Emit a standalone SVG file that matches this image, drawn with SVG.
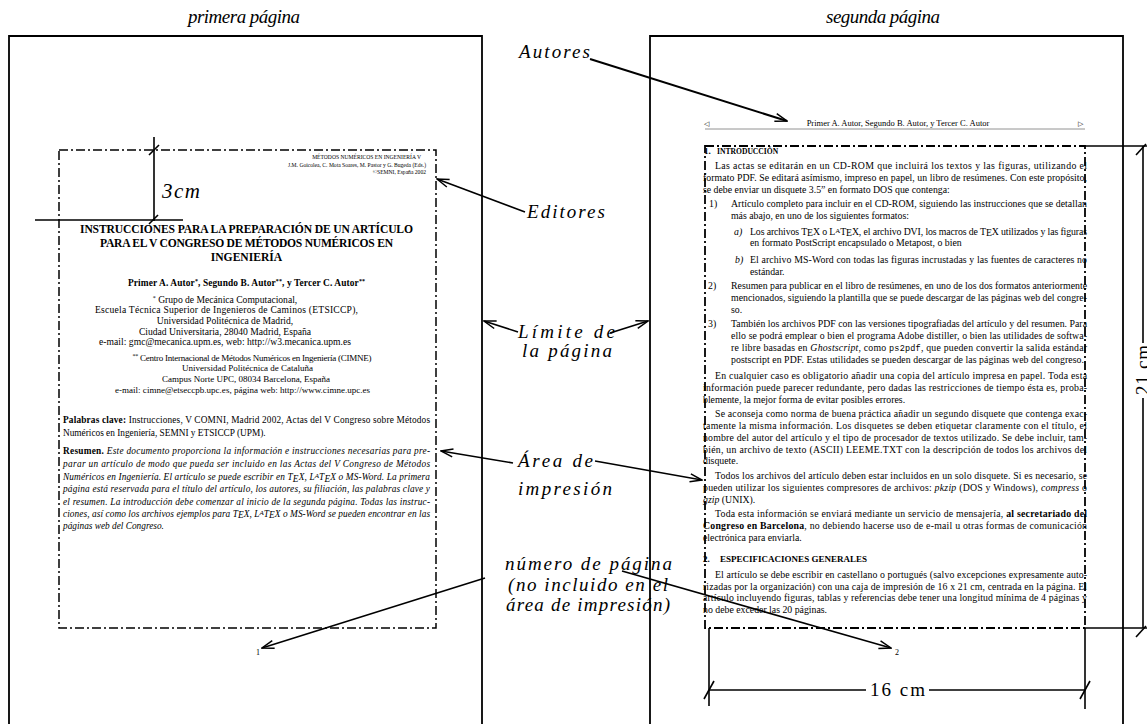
<svg xmlns="http://www.w3.org/2000/svg" width="1147" height="724" viewBox="0 0 1147 724">
<style>
.lbl{font-family:"Liberation Serif",serif;font-style:italic;font-size:19px;fill:#000}
.dim{font-family:"Liberation Serif",serif;font-size:19px;fill:#000}
.pg{fill:none;stroke:#000;stroke-width:1.8}
.pa{fill:none;stroke:#000;stroke-width:1.5;stroke-dasharray:9 3 2 3}
.ln{fill:none;stroke:#000;stroke-width:1.6}
.ar{fill:none;stroke:#000;stroke-width:1.6;marker-end:url(#ah)}
.t1{font-family:"Liberation Serif",serif;font-size:9.3px;fill:#000}
.t2{font-family:"Liberation Serif",serif;font-size:9.8px;fill:#000}
.af{font-family:"Liberation Serif",serif;font-size:9.6px;fill:#000}
.tiny{font-family:"Liberation Serif",serif;font-size:5.6px;fill:#000}
.b{font-weight:bold}
.i{font-style:italic}
.m{font-family:"Liberation Mono",monospace}
</style>
<defs>
<marker id="ah" viewBox="0 0 14 10" refX="13" refY="5" markerWidth="14" markerHeight="10" orient="auto" markerUnits="userSpaceOnUse">
<path d="M1,1 L13,5 L1,9" fill="none" stroke="#000" stroke-width="1.5"/>
</marker>
</defs>

<g id="titles">
<text class="lbl" x="244" y="23" text-anchor="middle" textLength="112">primera página</text>
<text class="lbl" x="883" y="23" text-anchor="middle" textLength="114">segunda página</text>
</g>

<g id="page1">
<path class="pg" d="M9,724 V36 H482 V724"/>
<rect class="pa" x="59" y="150" width="377" height="478"/>
<text class="tiny" x="421" y="159" text-anchor="end">MÉTODOS NUMÉRICOS EN INGENIERÍA V</text>
<text class="tiny" x="426" y="166.5" text-anchor="end">J.M. Goicolea, C. Mota Soares, M. Pastor y G. Bugeda (Eds.)</text>
<text class="tiny" x="426" y="174" text-anchor="end">©SEMNI, España 2002</text>
<text class="t1 b" x="246.5" y="233" text-anchor="middle" style="font-size:11.6px" textLength="333">INSTRUCCIONES PARA LA PREPARACIÓN DE UN ARTÍCULO</text>
<text class="t1 b" x="246.5" y="247" text-anchor="middle" style="font-size:11.6px" textLength="293">PARA EL V CONGRESO DE MÉTODOS NUMÉRICOS EN</text>
<text class="t1 b" x="246.5" y="261" text-anchor="middle" style="font-size:11.6px">INGENIERÍA</text>
<text class="t1 b" x="246.5" y="285.5" text-anchor="middle" style="font-size:9.4px" textLength="237">Primer A. Autor<tspan font-size="6" dy="-3">*</tspan><tspan dy="3">, Segundo B. Autor</tspan><tspan font-size="6" dy="-3">**</tspan><tspan dy="3">, y Tercer C. Autor</tspan><tspan font-size="6" dy="-3">**</tspan></text>
<text class="af" x="225" y="303" text-anchor="middle"><tspan font-size="6" dy="-3">*</tspan><tspan dy="3"> Grupo de Mecánica Computacional,</tspan></text>
<text class="af" x="226.5" y="313" text-anchor="middle" textLength="263">Escuela Técnica Superior de Ingenieros de Caminos (ETSICCP),</text>
<text class="af" x="225" y="324" text-anchor="middle">Universidad Politécnica de Madrid,</text>
<text class="af" x="225" y="334.5" text-anchor="middle">Ciudad Universitaria, 28040 Madrid, España</text>
<text class="af" x="225" y="345" text-anchor="middle" textLength="252">e-mail: gmc@mecanica.upm.es, web: http://w3.mecanica.upm.es</text>
<text class="af" x="252" y="361" text-anchor="middle" style="font-size:9px" textLength="239"><tspan font-size="6" dy="-3">**</tspan><tspan dy="3"> Centro Internacional de Métodos Numéricos en Ingeniería (CIMNE)</tspan></text>
<text class="af" x="247.5" y="371" text-anchor="middle" style="font-size:9px">Universidad Politécnica de Cataluña</text>
<text class="af" x="246" y="382" text-anchor="middle" style="font-size:9px">Campus Norte UPC, 08034 Barcelona, España</text>
<text class="af" x="242.5" y="392.5" text-anchor="middle" style="font-size:9px" textLength="255">e-mail: cimne@etseccpb.upc.es, página web: http://www.cimne.upc.es</text>
<text class="t1" x="63" y="423" textLength="367"><tspan class="b">Palabras clave:</tspan> Instrucciones, V COMNI, Madrid 2002, Actas del V Congreso sobre Métodos</text>
<text class="t1" x="63" y="435.5">Numéricos en Ingeniería, SEMNI y ETSICCP (UPM).</text>
<text class="t1" x="63" y="454" textLength="367"><tspan class="b">Resumen.</tspan><tspan class="i"> Este documento proporciona la información e instrucciones necesarias para pre-</tspan></text>
<text class="t1 i" x="63" y="467" textLength="367">parar un artículo de modo que pueda ser incluido en las Actas del V Congreso de Métodos</text>
<text class="t1 i" x="63" y="480" textLength="367">Numéricos en Ingeniería. El artículo se puede escribir en T<tspan dy="1.8">E</tspan><tspan dy="-1.8">X, L</tspan><tspan dy="-2" font-size="7">A</tspan><tspan dy="2">T</tspan><tspan dy="1.8">E</tspan><tspan dy="-1.8">X o MS-Word. La primera</tspan></text>
<text class="t1 i" x="63" y="492" textLength="367">página está reservada para el título del artículo, los autores, su filiación, las palabras clave y</text>
<text class="t1 i" x="63" y="504.5" textLength="367">el resumen. La introducción debe comenzar al inicio de la segunda página. Todas las instruc-</text>
<text class="t1 i" x="63" y="516.5" textLength="367">ciones, así como los archivos ejemplos para T<tspan dy="1.8">E</tspan><tspan dy="-1.8">X, L</tspan><tspan dy="-2" font-size="7">A</tspan><tspan dy="2">T</tspan><tspan dy="1.8">E</tspan><tspan dy="-1.8">X o MS-Word se pueden encontrar en las</tspan></text>
<text class="t1 i" x="63" y="529">páginas web del Congreso.</text>
<text class="t1" x="256" y="655" style="font-size:8px">1</text>
</g>

<g id="page2">
<path class="pg" d="M650,724 V36 H1123 V724"/>
<rect class="pa" x="705" y="146" width="380" height="482" style="stroke-width:1.8"/>
<text font-family="DejaVu Sans,sans-serif" font-size="7" x="704" y="126">◁</text>
<text font-family="DejaVu Sans,sans-serif" font-size="7" x="1078" y="126">▷</text>
<text class="t2" x="898" y="126" text-anchor="middle" style="font-size:8.5px">Primer A. Autor, Segundo B. Autor, y Tercer C. Autor</text>
<line x1="705" y1="129" x2="1085" y2="129" stroke="#777" stroke-width="0.8"/>
<text class="t2 b" x="704" y="154" style="font-size:9px">1.</text>
<text class="t2 b" x="717" y="154" style="font-size:7.6px">INTRODUCCIÓN</text>
<text class="t2" x="715" y="169" textLength="372">Las actas se editarán en un CD-ROM que incluirá los textos y las figuras, utilizando el</text>
<text class="t2" x="703" y="180.7" textLength="384">formato PDF. Se editará asímismo, impreso en papel, un libro de resúmenes. Con este propósito,</text>
<text class="t2" x="703" y="192.5">se debe enviar un disquete 3.5” en formato DOS que contenga:</text>
<text class="t2" x="709" y="207.1">1)</text>
<text class="t2" x="731" y="207.1" textLength="356">Artículo completo para incluir en el CD-ROM, siguiendo las instrucciones que se detallan</text>
<text class="t2" x="731" y="218.9">más abajo, en uno de los siguientes formatos:</text>
<text class="t2 i" x="734" y="234.5">a)</text>
<text class="t2" x="750" y="234.5" textLength="337">Los archivos T<tspan dy="1.8">E</tspan><tspan dy="-1.8">X o L</tspan><tspan dy="-2" font-size="7">A</tspan><tspan dy="2">T</tspan><tspan dy="1.8">E</tspan><tspan dy="-1.8">X, el archivo DVI, los macros de T</tspan><tspan dy="1.8">E</tspan><tspan dy="-1.8">X utilizados y las figuras</tspan></text>
<text class="t2" x="750" y="246.3">en formato PostScript encapsulado o Metapost, o bien</text>
<text class="t2 i" x="735" y="262.9">b)</text>
<text class="t2" x="750" y="262.9" textLength="337">El archivo MS-Word con todas las figuras incrustadas y las fuentes de caracteres no</text>
<text class="t2" x="750" y="274.6">estándar.</text>
<text class="t2" x="708" y="289.3">2)</text>
<text class="t2" x="731" y="289.3" textLength="356">Resumen para publicar en el libro de resúmenes, en uno de los dos formatos anteriormente</text>
<text class="t2" x="731" y="301" textLength="356">mencionados, siguiendo la plantilla que se puede descargar de las páginas web del congre-</text>
<text class="t2" x="731" y="312.8">so.</text>
<text class="t2" x="708" y="327.4">3)</text>
<text class="t2" x="731" y="327.4" textLength="356">También los archivos PDF con las versiones tipografiadas del artículo y del resumen. Para</text>
<text class="t2" x="731" y="339.2" textLength="356">ello se podrá emplear o bien el programa Adobe distiller, o bien las utilidades de softwa-</text>
<text class="t2" x="731" y="350.9" textLength="356">re libre basadas en <tspan class="i">Ghostscript</tspan>, como <tspan class="m" font-size="8.5">ps2pdf</tspan>, que pueden convertir la salida estándar</text>
<text class="t2" x="731" y="362.6" textLength="353">postscript en PDF. Estas utilidades se pueden descargar de las páginas web del congreso.</text>
<text class="t2" x="715" y="379.3" textLength="372">En cualquier caso es obligatorio añadir una copia del artículo impresa en papel. Toda esta</text>
<text class="t2" x="703" y="391" textLength="384">información puede parecer redundante, pero dadas las restricciones de tiempo ésta es, proba-</text>
<text class="t2" x="703" y="402.7">blemente, la mejor forma de evitar posibles errores.</text>
<text class="t2" x="715" y="417.4" textLength="372">Se aconseja como norma de buena práctica añadir un segundo disquete que contenga exac-</text>
<text class="t2" x="703" y="429.1" textLength="384">tamente la misma información. Los disquetes se deben etiquetar claramente con el título, el</text>
<text class="t2" x="703" y="440.9" textLength="384">nombre del autor del artículo y el tipo de procesador de textos utilizado. Se debe incluir, tam-</text>
<text class="t2" x="703" y="452.6" textLength="384">bién, un archivo de texto (ASCII) LEEME.TXT con la descripción de todos los archivos del</text>
<text class="t2" x="703" y="464.4">disquete.</text>
<text class="t2" x="715" y="479" textLength="372">Todos los archivos del artículo deben estar incluidos en un solo disquete. Si es necesario, se</text>
<text class="t2" x="703" y="490.8" textLength="384">pueden utilizar los siguientes compresores de archivos: <tspan class="i">pkzip</tspan> (DOS y Windows), <tspan class="i">compress</tspan> o</text>
<text class="t2" x="703" y="502.5"><tspan class="i">gzip</tspan> (UNIX).</text>
<text class="t2" x="715" y="517.2" textLength="372">Toda esta información se enviará mediante un servicio de mensajería, <tspan class="b">al secretariado del</tspan></text>
<text class="t2" x="703" y="528.9" textLength="384"><tspan class="b">Congreso en Barcelona</tspan>, no debiendo hacerse uso de e-mail u otras formas de comunicación</text>
<text class="t2" x="703" y="540.7">electrónica para enviarla.</text>
<text class="t2 b" x="703" y="562.2" style="font-size:9px">2.</text>
<text class="t2 b" x="720" y="562.2" style="font-size:9px" textLength="147">ESPECIFICACIONES GENERALES</text>
<text class="t2" x="715" y="577.8" textLength="372">El artículo se debe escribir en castellano o portugués (salvo excepciones expresamente auto-</text>
<text class="t2" x="703" y="589.6" textLength="384">rizadas por la organización) con una caja de impresión de 16 x 21 cm, centrada en la página. El</text>
<text class="t2" x="703" y="601.3" textLength="384">artículo incluyendo figuras, tablas y referencias debe tener una longitud mínima de 4 páginas y</text>
<text class="t2" x="703" y="613">no debe exceder las 20 páginas.</text>
<text class="t2" x="895" y="655" style="font-size:8px">2</text>
</g>

<g id="dim-3cm">
<line class="ln" x1="154" y1="137" x2="154" y2="221"/>
<line class="ln" x1="35" y1="220" x2="183" y2="220"/>
<line class="ln" x1="149" y1="155" x2="159" y2="145"/>
<line class="ln" x1="149" y1="224" x2="158" y2="215"/>
<text class="lbl" x="162" y="198" style="font-size:21px" textLength="38">3cm</text>
</g>

<g id="dim-16cm">
<line class="ln" x1="709" y1="628" x2="709" y2="706"/>
<line class="ln" x1="1085" y1="628" x2="1085" y2="709"/>
<line class="ln" x1="709" y1="690" x2="866" y2="690"/>
<line class="ln" x1="929" y1="690" x2="1085" y2="690"/>
<line class="ln" x1="704" y1="699" x2="714" y2="681"/>
<line class="ln" x1="1080" y1="699" x2="1090" y2="681"/>
<text class="dim" x="897.5" y="696" text-anchor="middle" textLength="55">16 cm</text>
</g>

<g id="dim-21cm">
<line class="ln" x1="1085" y1="146" x2="1147" y2="146"/>
<line class="ln" x1="1085" y1="628" x2="1147" y2="628"/>
<line class="ln" x1="1143" y1="146" x2="1143" y2="343"/>
<line class="ln" x1="1143" y1="398" x2="1143" y2="628"/>
<line class="ln" x1="1136" y1="155" x2="1146" y2="144"/>
<line class="ln" x1="1136" y1="637" x2="1146" y2="626"/>
<text class="dim" transform="translate(1149,370) rotate(-90)" text-anchor="middle" textLength="50">21 cm</text>
</g>

<g id="labels">
<text class="lbl" x="519" y="58" textLength="71">Autores</text>
<text class="lbl" x="527" y="218" textLength="78">Editores</text>
<text class="lbl" x="518" y="338" textLength="97">Límite de</text>
<text class="lbl" x="522" y="357" textLength="90">la página</text>
<text class="lbl" x="518" y="467" textLength="75">Área de</text>
<text class="lbl" x="518" y="495" textLength="94">impresión</text>
<text class="lbl" x="505" y="570" textLength="167">número de página</text>
<text class="lbl" x="508" y="591" textLength="160">(no incluido en el</text>
<text class="lbl" x="506" y="611" textLength="164">área de impresión)</text>
</g>

<g id="connectors">
<path class="ar" style="stroke-width:2" d="M590,59 L787,121"/>
<path class="ar" d="M525,212 L437,179"/>
<path class="ar" d="M518,332 L484,321"/>
<path class="ar" d="M610,333 L648,321"/>
<path class="ar" d="M513,463 L441,451"/>
<path class="ar" d="M595,461 L702,480"/>
<path class="ar" d="M485,578 L262,648"/>
<path class="ar" d="M622,571 L891,648"/>
</g>
</svg>
